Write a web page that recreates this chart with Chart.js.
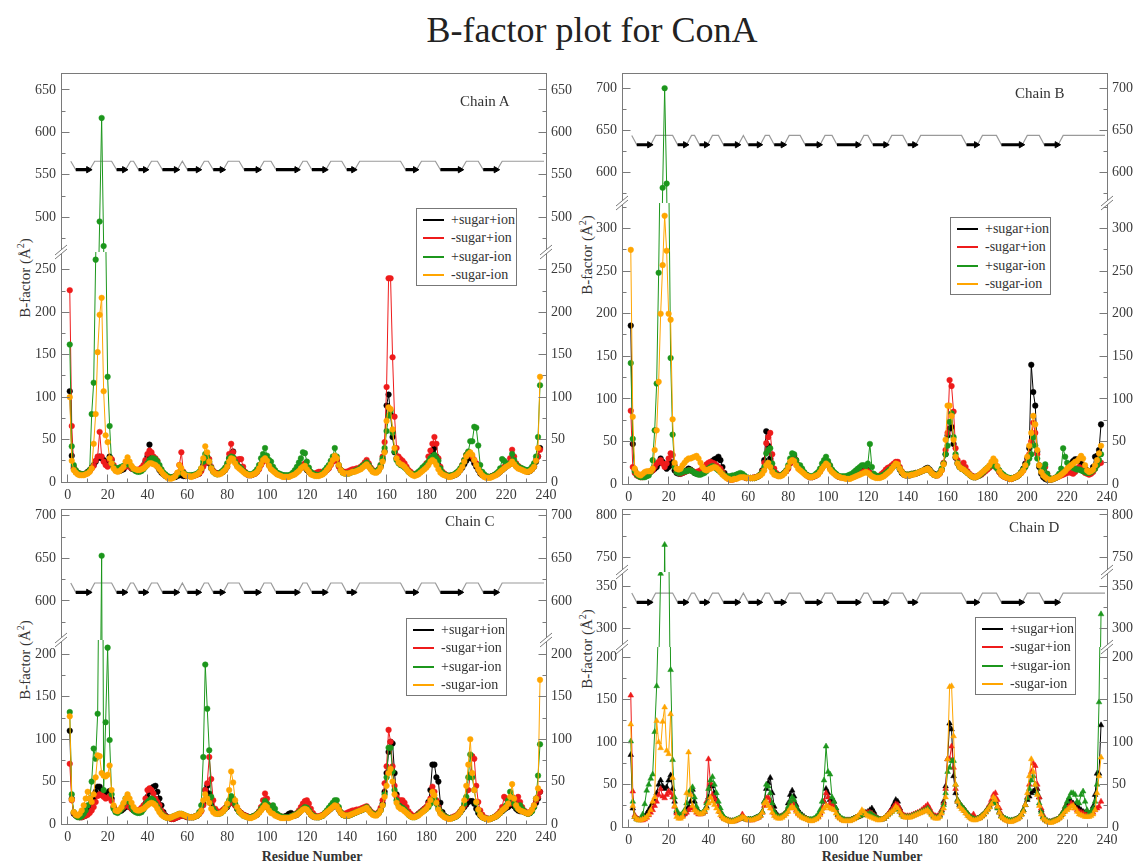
<!DOCTYPE html>
<html lang="en">
<head>
<meta charset="utf-8">
<title>B-factor plot for ConA</title>
<script src="https://cdn.jsdelivr.net/npm/chart.js@4.4.1/dist/chart.umd.min.js"></script>
<style>
  html, body { margin: 0; padding: 0; background: #fff; }
  #page { position: relative; width: 1134px; height: 867px; overflow: hidden;
          font-family: "Liberation Serif", "Times New Roman", serif; color: #222; }
  #page canvas { position: absolute; }
  .title { position: absolute; left: 25px; top: 10px; width: 1134px; text-align: center; font-size: 36px; line-height: 40px; }
  .chain { position: absolute; font-size: 15px; line-height: 18px; white-space: nowrap; color: #333; }
  .ylab { position: absolute; font-size: 15px; line-height: 16px; white-space: nowrap; color: #333;
          transform: translate(-50%, -50%) rotate(-90deg); }
  .ylab sup { font-size: 10px; vertical-align: 6px; line-height: 0; }
  .xlab { position: absolute; font-size: 14px; font-weight: bold; white-space: nowrap; line-height: 16px;
          transform: translateX(-50%); color: #333; }
  .legend { position: absolute; width: 99px; height: 76px; border: 1px solid #777; background: #fff;
            font-size: 14px; z-index: 50; color: #333; }
  .legend .row { position: absolute; left: 0; width: 100%; height: 18px; }
  .legend .sw { position: absolute; left: 6px; top: 8px; width: 21px; border-top: 2px solid; }
  .legend .tx { position: absolute; left: 34px; top: 0; line-height: 18px; white-space: nowrap; }
</style>
</head>
<body>
<div id="page">
  <div class="title">B-factor plot for ConA</div>
</div>
<script>
// ---------------------------------------------------------------------------
// Residue B-factors (Å²) for the four ConA chains, one array per simulation.
// ---------------------------------------------------------------------------
const residues = Array.from({ length: 237 }, (_, i) => i + 1);

const A_plusSugarPlusIon = [
107,31,16,12,10,9,9,9,10,12,
14,17,20,24,28,30,28,26,24,22,
30,26,18,14,13,13,14,15,18,22,
19,16,15,14,14,14,15,17,24,30,
44,32,26,22,18,14,11,9,7,6,
5,5,6,6,7,8,8,7,7,7,
7,7,8,8,9,10,14,20,27,27,
22,16,13,11,10,10,11,12,14,18,
28,33,36,26,20,18,17,14,11,9,
8,8,9,10,12,16,21,26,29,26,
20,16,14,12,10,9,8,7,7,7,
7,8,9,11,13,15,17,18,17,14,
12,10,9,8,8,8,9,10,12,14,
17,21,26,30,26,19,14,12,11,11,
11,12,13,13,14,15,16,18,20,22,
20,16,13,12,12,14,18,26,36,90,
103,80,53,35,28,24,22,21,19,16,
13,11,9,8,9,10,12,14,16,18,
22,28,36,40,30,20,14,11,9,8,
7,7,7,8,9,11,14,17,21,25,
28,30,27,22,18,14,10,8,7,6,
6,6,7,8,9,10,12,14,16,18,
20,21,24,22,19,17,16,15,14,13,
12,13,15,18,24,30,40];
const A_minusSugarPlusIon = [
226,66,18,13,11,10,9,9,10,11,
13,16,19,25,30,59,30,24,20,18,
26,27,20,15,14,15,16,17,18,20,
18,16,15,14,14,15,17,20,26,33,
37,35,30,28,25,18,14,10,8,6,
5,5,6,7,10,20,35,12,8,7,
7,7,7,8,9,10,13,18,22,27,
27,18,13,11,10,10,11,13,15,20,
33,45,35,27,24,27,27,18,12,9,
8,8,9,10,12,15,20,24,28,27,
22,18,15,12,10,9,8,8,7,7,
7,8,9,10,12,14,17,20,22,18,
14,11,10,10,11,12,12,11,12,14,
16,20,24,28,25,18,14,12,12,12,
13,14,15,15,16,16,18,20,23,26,
22,17,14,13,13,15,20,30,47,112,
240,240,147,77,40,30,27,25,22,18,
14,12,10,9,10,11,13,15,18,22,
30,37,45,53,45,28,18,12,10,8,
7,7,8,9,10,12,15,20,26,32,
35,33,30,26,22,17,12,9,7,6,
6,6,7,8,9,11,13,16,18,20,
22,28,38,30,22,19,17,15,14,13,
13,14,16,20,26,30,38];
const A_plusSugarMinusIon = [
162,42,20,14,11,10,9,9,10,11,
14,80,117,262,380,495,617,466,300,124,
66,22,18,16,16,17,18,19,20,24,
21,18,15,13,12,12,13,15,18,22,
26,28,28,27,24,20,15,11,9,7,
6,5,6,7,9,11,12,11,9,8,
8,8,8,9,10,12,16,24,33,30,
24,17,12,10,9,10,12,14,17,22,
28,30,29,24,20,18,16,13,11,10,
9,9,10,12,15,20,28,33,40,31,
26,24,18,14,11,10,9,8,8,8,
8,9,11,14,18,23,28,35,34,24,
17,12,10,9,8,8,9,11,14,17,
20,25,30,40,30,20,14,11,10,10,
10,11,12,13,14,15,17,19,21,23,
20,16,13,12,13,15,20,28,40,60,
78,84,58,36,26,22,20,19,17,15,
12,10,9,9,10,12,14,17,19,21,
24,28,30,32,28,25,16,11,9,8,
7,8,8,9,11,13,16,20,26,32,
36,48,48,65,64,43,20,12,9,7,
6,6,7,8,10,12,16,27,25,22,
20,22,33,26,21,18,17,16,15,14,
14,15,18,22,30,53,114];
const A_minusSugarMinusIon = [
100,25,14,11,9,8,8,8,9,10,
12,16,45,80,153,197,217,107,55,47,
28,22,16,13,12,13,15,18,24,29,
24,19,16,15,14,14,15,16,18,20,
22,22,21,20,18,15,12,9,7,5,
4,4,5,7,11,20,16,10,8,7,
7,6,7,8,9,11,16,28,42,35,
24,16,12,10,9,9,10,12,14,18,
24,28,27,22,18,16,14,12,10,9,
8,8,9,10,12,16,21,26,28,25,
19,15,13,11,9,8,7,6,6,6,
6,7,8,9,11,13,16,18,19,15,
12,9,8,7,7,7,8,9,11,14,
17,21,26,31,28,20,14,11,10,10,
10,11,12,12,13,14,15,17,19,21,
18,15,12,11,11,13,17,24,35,72,
88,86,62,40,28,23,21,20,18,15,
12,10,8,7,8,9,11,13,15,17,
20,24,26,24,20,15,11,9,8,7,
6,6,7,8,9,11,14,18,24,30,
33,35,32,26,20,15,11,8,6,5,
5,5,6,7,8,10,12,14,16,18,
19,21,24,21,18,16,15,14,13,12,
12,13,15,18,25,40,124];

const B_plusSugarPlusIon = [
186,47,16,12,10,9,9,10,12,14,
15,16,18,20,24,30,26,22,18,20,
26,22,16,13,12,12,13,14,16,18,
17,15,13,12,12,12,13,15,18,22,
25,27,29,30,32,28,20,13,9,7,
6,6,6,7,8,9,9,8,7,7,
7,7,7,8,9,11,16,28,62,45,
30,18,13,11,10,10,11,13,15,19,
25,30,33,28,22,18,16,13,11,9,
8,8,9,10,12,15,19,23,26,24,
19,15,13,11,9,8,8,7,7,7,
7,8,9,10,11,13,15,17,18,16,
13,10,9,8,8,8,9,10,12,14,
16,19,22,24,22,17,13,11,10,10,
10,11,12,12,13,14,15,16,18,19,
17,14,12,11,11,13,17,24,35,57,
65,67,47,31,24,20,18,17,15,13,
11,9,8,8,9,10,12,14,16,18,
20,22,24,22,18,14,11,9,8,7,
6,6,7,8,9,11,14,18,24,30,
42,140,108,92,38,20,12,8,6,5,
5,5,6,7,8,10,12,14,15,17,
20,24,27,29,29,28,24,20,18,16,
14,15,20,32,33,40,70];
const B_minusSugarPlusIon = [
86,20,13,10,9,8,8,9,10,12,
14,16,20,24,26,28,24,20,24,30,
36,34,22,15,13,12,13,14,15,16,
16,15,14,14,15,16,18,20,23,25,
26,25,24,22,20,18,14,10,8,6,
5,5,6,7,8,9,9,8,7,7,
7,7,8,8,9,11,15,25,48,55,
60,35,18,13,11,10,11,13,15,18,
24,28,30,26,21,17,15,13,11,9,
8,8,9,10,12,15,19,22,24,25,
21,16,13,11,9,8,8,8,7,7,
7,8,9,10,11,12,14,15,16,15,
13,11,10,9,9,10,12,14,17,19,
20,22,24,26,26,20,15,12,11,11,
11,12,12,13,13,14,15,16,17,18,
16,13,11,10,10,12,16,25,40,60,
122,115,85,42,28,22,20,25,20,15,
12,10,9,8,9,10,11,13,15,17,
19,21,23,22,18,14,11,9,8,7,
6,6,7,8,9,11,13,16,20,26,
35,50,72,60,35,22,16,18,20,12,
7,6,6,7,8,9,10,11,12,13,
14,13,12,14,18,20,18,15,13,12,
11,12,14,18,22,24,25];
const B_plusSugarMinusIon = [
142,53,15,11,9,8,8,8,9,10,
14,28,63,118,248,420,582,700,587,380,
148,58,20,14,13,13,14,15,15,16,
16,15,13,12,11,11,12,13,15,18,
20,21,20,18,16,14,12,10,9,9,
9,10,10,11,12,13,12,10,8,7,
7,7,7,8,9,11,14,20,36,40,
42,24,14,11,10,10,11,13,16,22,
30,36,35,28,22,22,18,14,11,10,
9,9,10,12,14,18,24,28,32,27,
22,17,14,12,10,9,9,9,9,10,
11,12,14,16,18,20,22,22,21,24,
47,20,12,10,9,9,10,11,13,15,
17,19,21,23,22,18,14,12,11,11,
11,12,12,13,13,14,15,16,17,18,
16,13,11,10,11,13,18,24,35,45,
73,83,55,35,25,20,18,17,15,13,
11,9,8,8,9,10,12,14,17,19,
21,22,22,20,18,16,13,11,9,8,
7,7,7,8,9,11,14,17,20,24,
30,35,55,45,30,22,16,18,23,12,
7,6,6,7,9,12,18,42,32,25,
22,20,19,18,17,17,16,15,14,13,
13,14,16,18,22,28,35];
const B_minusSugarMinusIon = [
275,79,18,13,11,10,12,14,15,15,
15,18,40,63,120,200,257,315,274,200,
193,76,25,18,17,18,22,25,28,30,
30,31,32,33,30,25,20,17,16,17,
18,19,20,19,17,14,11,9,7,6,
5,5,6,6,7,8,8,8,7,7,
7,7,7,8,9,10,12,16,22,25,
20,14,11,10,9,9,10,12,15,20,
26,28,27,22,18,16,14,12,10,9,
8,8,9,10,11,14,18,21,24,22,
17,14,12,10,9,8,7,7,6,6,
6,7,8,9,10,11,12,13,14,13,
11,9,8,7,7,7,8,9,11,13,
15,18,21,24,23,18,14,11,10,10,
10,11,11,12,13,14,15,16,17,18,
16,13,11,10,10,12,16,23,52,92,
92,80,52,32,24,20,18,17,15,13,
11,9,8,8,9,11,13,15,17,19,
22,26,30,27,21,15,11,9,8,7,
6,6,7,8,9,11,13,16,22,32,
45,60,80,70,40,22,14,10,8,6,
5,5,6,7,8,9,11,13,15,18,
20,22,24,26,27,30,33,30,22,16,
14,15,17,22,28,36,45];

const C_plusSugarPlusIon = [
110,30,12,10,9,8,8,9,10,12,
16,22,30,38,44,44,40,36,36,37,
39,30,20,15,14,15,16,18,20,22,
20,18,16,15,14,14,15,18,24,32,
38,42,44,45,38,30,22,14,10,8,
7,6,6,7,8,9,10,10,9,8,
8,8,8,9,10,12,16,24,40,45,
36,24,17,14,13,13,14,16,18,20,
24,28,26,22,18,15,13,11,10,9,
8,8,9,10,11,14,17,20,22,20,
17,15,14,12,10,9,8,8,9,10,
12,13,11,10,11,13,16,18,19,17,
14,11,9,8,8,8,9,10,12,14,
16,18,20,22,21,17,13,11,10,10,
10,11,12,13,14,15,16,17,18,19,
17,14,12,11,11,13,17,24,38,60,
85,97,95,60,35,25,21,20,18,15,
12,10,9,9,10,12,14,16,18,20,
26,40,70,70,55,50,25,14,10,8,
7,7,7,8,9,11,14,17,20,23,
26,27,27,24,18,13,10,8,7,6,
6,6,7,8,9,11,13,15,17,19,
20,22,24,21,18,16,15,15,14,13,
12,13,16,20,25,30,38];
const C_minusSugarPlusIon = [
71,28,13,10,9,8,8,9,10,11,
13,16,20,26,33,35,34,32,30,31,
33,27,20,16,15,16,18,20,22,22,
20,18,17,16,16,17,19,22,30,40,
42,40,36,30,26,22,16,12,9,8,
7,6,6,7,8,9,10,10,9,8,
8,8,8,9,10,12,15,22,40,48,
79,53,28,18,15,14,15,17,19,21,
24,28,26,22,18,15,13,11,10,9,
8,8,9,10,12,15,20,28,36,30,
22,17,15,13,11,10,9,8,8,8,
8,9,10,11,13,16,20,24,27,28,
24,18,13,10,9,9,10,11,13,15,
17,19,21,23,22,18,14,12,12,13,
14,15,16,16,17,17,18,19,20,21,
18,15,13,12,12,14,19,28,48,68,
111,97,68,45,32,28,28,28,25,20,
15,12,10,9,10,12,14,16,18,20,
24,30,44,38,28,20,14,11,9,8,
7,7,8,9,10,12,15,18,22,30,
40,58,80,77,45,26,16,11,8,7,
6,6,7,8,10,12,15,20,32,30,
26,24,30,28,25,32,26,20,16,14,
13,14,17,22,28,32,38];
const C_plusSugarMinusIon = [
132,35,14,10,8,8,9,12,16,22,
30,50,89,77,130,400,653,40,120,208,
99,35,18,14,13,15,18,24,30,32,
26,20,16,14,13,13,14,17,22,26,
28,30,28,24,20,16,12,10,8,7,
7,8,9,10,11,12,12,11,10,9,
8,8,8,9,10,14,22,79,188,136,
87,32,18,14,12,12,13,15,18,22,
28,33,30,24,18,14,12,10,9,8,
8,8,9,10,12,14,18,22,27,24,
20,19,22,18,12,10,9,8,8,8,
8,9,10,11,12,14,16,18,20,19,
16,12,10,9,8,8,9,10,13,16,
19,22,25,28,28,20,14,11,10,10,
10,11,12,13,14,15,16,17,18,20,
17,14,12,11,11,13,16,22,35,55,
90,90,62,40,28,22,20,19,17,14,
11,9,8,8,9,11,13,15,16,18,
20,24,28,30,24,18,14,11,9,8,
7,7,7,8,9,11,14,18,24,32,
55,82,55,40,25,16,11,8,7,6,
6,6,7,8,9,11,13,16,18,22,
28,38,32,24,20,18,22,18,15,13,
12,13,15,20,30,57,94];
const C_minusSugarMinusIon = [
127,29,14,11,10,12,16,22,30,38,
30,26,35,55,81,80,60,57,56,58,
69,40,22,16,15,17,20,25,30,35,
30,25,20,17,16,16,17,18,20,22,
24,25,24,22,18,14,11,9,8,7,
7,8,9,10,11,12,12,11,10,9,
8,8,8,9,10,12,16,28,35,30,
25,18,14,12,12,12,13,15,18,24,
40,62,49,28,20,15,12,10,9,8,
7,7,8,9,11,13,16,19,22,20,
16,13,12,10,9,8,7,7,7,7,
7,8,9,10,11,13,15,17,18,17,
14,11,9,8,8,8,9,10,12,14,
16,18,20,22,21,17,13,11,10,10,
10,11,12,13,14,15,16,17,18,19,
16,13,11,10,10,12,16,22,32,45,
60,65,50,35,25,20,18,17,15,13,
11,9,8,8,9,10,12,14,16,18,
22,28,38,34,25,17,12,10,8,7,
6,6,7,8,9,11,14,18,28,45,
70,100,60,40,26,17,11,8,7,6,
5,6,7,8,9,11,13,16,18,20,
24,32,47,30,22,18,16,15,14,13,
12,14,17,22,30,42,170];

const D_plusSugarPlusIon = [
85,22,12,10,9,9,10,12,16,20,
24,28,33,40,50,55,48,45,47,55,
61,45,30,18,14,13,14,16,20,24,
30,44,30,22,18,16,16,18,24,35,
50,48,40,32,25,18,13,10,9,8,
7,7,7,8,9,10,10,10,9,9,
9,9,10,11,12,14,18,30,45,52,
58,40,24,16,13,12,13,15,18,28,
38,43,36,26,20,16,14,12,10,9,
8,8,9,10,12,16,22,30,45,40,
32,30,30,22,14,11,9,8,8,8,
8,9,10,11,12,13,15,16,17,18,
20,22,18,13,10,9,9,10,12,15,
18,22,27,32,30,22,16,13,12,12,
12,13,14,15,16,17,18,20,22,24,
20,16,13,12,12,14,20,30,48,80,
122,115,60,40,30,26,24,22,19,16,
13,11,10,9,10,11,13,15,18,21,
24,28,32,30,24,18,13,11,9,8,
7,7,8,9,10,12,15,20,26,32,
36,40,42,44,45,35,20,12,8,7,
6,6,7,8,9,11,14,18,22,28,
33,30,28,26,24,22,20,18,17,16,
16,18,24,38,63,63,120];
const D_minusSugarPlusIon = [
155,42,14,10,9,8,8,9,11,14,
17,20,25,30,38,45,36,34,38,42,
40,35,24,16,13,12,13,15,17,20,
22,24,20,17,15,15,16,18,30,80,
52,38,34,30,24,18,13,10,9,8,
7,7,7,8,9,10,15,11,9,8,
8,8,9,10,11,13,17,25,34,35,
30,22,16,13,12,12,13,15,18,22,
27,30,26,20,16,14,12,11,10,9,
8,8,9,10,12,16,22,30,40,35,
28,26,25,20,14,11,9,8,8,8,
8,9,10,11,12,13,14,15,16,17,
17,16,14,12,10,9,9,10,12,15,
18,20,24,27,26,21,16,14,13,13,
13,14,15,16,17,18,20,22,24,26,
22,17,14,13,13,15,20,28,45,80,
80,95,70,45,32,28,25,22,19,16,
13,12,15,10,10,11,13,15,18,22,
26,32,38,40,32,22,15,11,9,8,
7,7,8,9,10,12,15,20,26,35,
50,65,75,72,50,35,22,14,9,7,
6,6,7,8,9,11,14,18,24,22,
25,28,26,22,20,18,17,16,15,14,
14,15,17,20,22,24,30];
const D_plusSugarMinusIon = [
101,30,12,9,8,10,15,27,43,50,
57,62,112,166,250,365,500,765,550,420,
185,79,35,20,15,14,16,20,28,40,
44,47,35,24,18,16,17,20,28,45,
55,59,50,40,30,22,15,11,9,8,
7,7,8,9,10,11,11,10,9,9,
9,9,10,11,12,14,18,30,50,48,
40,28,18,14,12,12,13,15,18,24,
30,35,32,24,18,15,13,11,10,9,
9,9,10,12,15,20,30,55,95,65,
62,35,30,22,15,12,10,9,8,8,
8,9,10,11,12,13,14,15,15,15,
16,15,13,11,10,9,9,10,12,14,
16,18,20,22,21,18,14,12,12,12,
12,13,14,15,16,17,18,19,20,22,
19,15,12,11,11,13,18,26,40,65,
70,78,78,50,32,28,25,22,19,16,
13,11,10,9,10,11,13,15,18,21,
24,28,30,28,22,17,13,11,10,9,
8,8,8,9,10,12,15,20,26,34,
45,55,60,50,40,28,18,12,9,7,
6,6,7,8,9,11,14,18,24,30,
35,40,40,38,30,28,38,42,30,20,
16,18,22,30,50,147,317];
const D_minusSugarMinusIon = [
121,25,12,9,8,8,9,10,12,15,
20,30,35,125,100,93,124,141,90,86,
133,58,25,12,10,10,12,18,40,88,
38,25,20,18,16,15,16,18,22,28,
35,30,26,22,18,14,11,9,8,7,
6,6,7,8,9,10,12,11,9,8,
8,8,9,10,11,13,17,28,30,25,
22,17,13,11,10,10,11,13,15,18,
22,24,22,18,15,13,11,10,9,8,
7,7,8,9,11,14,18,22,25,24,
22,21,20,16,12,10,8,7,7,7,
7,8,9,11,13,16,20,18,15,13,
12,11,10,9,8,8,9,10,12,14,
16,18,20,24,22,18,14,12,11,11,
11,12,13,14,15,16,17,18,19,20,
17,14,11,10,10,12,16,22,35,80,
165,166,107,50,30,24,21,19,16,13,
11,9,8,8,9,10,12,14,17,20,
23,27,35,32,24,17,12,10,8,7,
6,6,7,8,9,11,14,18,26,40,
60,80,65,50,38,25,15,10,8,6,
5,5,6,7,8,10,12,15,18,20,
22,24,25,22,18,15,14,13,12,12,
12,13,15,20,40,60,82];

// Beta strands of the secondary-structure track: [first residue, last residue]
const strands = [[4,11],[24.5,29],[35.5,39.5],[47.5,55],[60,66],[73,78],[88.5,96],
                 [104.5,115.5],[122.5,129.5],[140,144],[169.5,175],[187,197.5],[208.5,215.5]];
const ssTrackStart = 1.5, ssTrackEnd = 239;

const seriesNames = ['+sugar+ion', '-sugar+ion', '+sugar-ion', '-sugar-ion'];
const xTicks = [0,20,40,60,80,100,120,140,160,180,200,220,240];
const xMinorTicks = [10,30,50,70,90,110,130,150,170,190,210,230];

// ---------------------------------------------------------------------------
// Styling and panel layout
// ---------------------------------------------------------------------------
const seriesColors = ['#000000', '#ee1b1b', '#1c961c', '#ffa500'];
const FRAME = '#7a7a7a';
const LABEL = '#3a3a3a';
const FONT = '"Liberation Serif", "Times New Roman", serif';
const X_MIN = -3.4, X_MAX = 240;

const panels = [
  { label: 'Chain A', marker: 'circle',
    series: [A_plusSugarPlusIon, A_minusSugarPlusIon, A_plusSugarMinusIon, A_minusSugarMinusIon],
    box: { left: 61, right: 546, top: 73 },
    segs: [
      { bottom: 252, min: 459, max: 670, major: [500,550,600,650], minor: [475,525,575,625] },
      { bottom: 482, min: 0, max: 271, major: [0,50,100,150,200,250], minor: [25,75,125,175,225] }
    ],
    ss: { seg: 0, top: 566, bottom: 556 },
    legend: { left: 416, top: 208 }, chainPos: { left: 460, top: 92 },
    ylab: { x: 25, y: 278 }, xlab: null },
  { label: 'Chain B', marker: 'circle',
    series: [B_plusSugarPlusIon, B_minusSugarPlusIon, B_plusSugarMinusIon, B_minusSugarMinusIon],
    box: { left: 622, right: 1107, top: 73 },
    segs: [
      { bottom: 203, min: 564, max: 718, major: [600,650,700], minor: [575,625,675] },
      { bottom: 484, min: 0, max: 330, major: [0,50,100,150,200,250,300], minor: [25,75,125,175,225,275,325] }
    ],
    ss: { seg: 0, top: 644, bottom: 633 },
    legend: { left: 950, top: 217 }, chainPos: { left: 1015, top: 84 },
    ylab: { x: 587, y: 255 }, xlab: null },
  { label: 'Chain C', marker: 'circle',
    series: [C_plusSugarPlusIon, C_minusSugarPlusIon, C_plusSugarMinusIon, C_minusSugarMinusIon],
    box: { left: 61, right: 546, top: 509 },
    segs: [
      { bottom: 640, min: 554, max: 708, major: [600,650,700], minor: [575,625,675] },
      { bottom: 824, min: 0, max: 217, major: [0,50,100,150,200], minor: [25,75,125,175] }
    ],
    ss: { seg: 0, top: 621, bottom: 610 },
    legend: { left: 406, top: 618 }, chainPos: { left: 445, top: 512 },
    ylab: { x: 25, y: 660 }, xlab: { x: 312, y: 849 } },
  { label: 'Chain D', marker: 'triangle',
    series: [D_plusSugarPlusIon, D_minusSugarPlusIon, D_plusSugarMinusIon, D_minusSugarMinusIon],
    box: { left: 622, right: 1107, top: 509 },
    segs: [
      { bottom: 572, min: 733, max: 807, major: [750,800], minor: [775] },
      { bottom: 647, min: 278, max: 367, major: [300,350], minor: [325] },
      { bottom: 827, min: 0, max: 212, major: [0,50,100,150,200], minor: [25,75,125,175] }
    ],
    ss: { seg: 1, top: 342, bottom: 331 },
    legend: { left: 975, top: 617 }, chainPos: { left: 1009, top: 518 },
    ylab: { x: 587, y: 649 }, xlab: { x: 872, y: 849 } }
];

// Crisp 1px line position, same rounding Chart.js uses for its borders
const align = p => Math.round(p - 0.5) + 0.5;

// Draws the inward tick marks, the top edge of the frame and the axis-break marks
const panelFrame = {
  id: 'panelFrame',
  afterDraw(chart, _args, o) {
    const { ctx, chartArea: a } = chart;
    const ys = chart.scales.y, xs = chart.scales.x;
    const L = align(a.left), R = align(a.right);
    ctx.save();
    ctx.strokeStyle = FRAME;
    ctx.lineWidth = 1;
    ctx.beginPath();
    const yTick = (v, len) => {
      const py = align(ys.getPixelForValue(v));
      ctx.moveTo(L, py); ctx.lineTo(L + len, py);
      ctx.moveTo(R, py); ctx.lineTo(R - len, py);
    };
    o.major.forEach(v => yTick(v, 8));
    o.minor.forEach(v => yTick(v, 4));
    if (o.isBottom) {
      const B = align(a.bottom);
      const xTick = (v, len) => {
        const px = align(xs.getPixelForValue(v));
        ctx.moveTo(px, B); ctx.lineTo(px, B - len);
      };
      xTicks.forEach(v => xTick(v, 8));
      xMinorTicks.forEach(v => xTick(v, 4));
    }
    if (o.isTop) {
      const T = align(a.top);
      ctx.moveTo(L, T); ctx.lineTo(R, T);
    }
    ctx.stroke();
    if (!o.isBottom) {
      const yb = a.bottom;
      [a.left, a.right].forEach(xx => {
        ctx.fillStyle = '#fff';
        ctx.fillRect(xx - 3, yb - 2, 6, 4);
        ctx.beginPath();
        [-2, 2].forEach(d => { ctx.moveTo(xx - 6, yb + d + 5); ctx.lineTo(xx + 6, yb + d - 5); });
        ctx.stroke();
      });
    }
    ctx.restore();
  }
};

const page = document.getElementById('page');

function ssDatasets(ss) {
  const track = [{ x: ssTrackStart, y: ss.top }];
  const bodies = [], heads = [];
  strands.forEach(([s, e]) => {
    track.push({ x: s - 2.5, y: ss.top }, { x: s, y: ss.bottom }, { x: e, y: ss.bottom }, { x: e + 2.5, y: ss.top });
    bodies.push({ x: s, y: ss.bottom }, { x: e - 1, y: ss.bottom }, { x: e, y: null });
    heads.push({ x: e - 0.6, y: ss.bottom });
  });
  track.push({ x: ssTrackEnd, y: ss.top });
  return [
    { data: track, borderColor: '#9a9a9a', borderWidth: 1.2, pointRadius: 0, order: 12, spanGaps: false, clip: 0 },
    { data: bodies, borderColor: '#000', borderWidth: 3.2, pointRadius: 0, order: 11, spanGaps: false, clip: 0 },
    { data: heads, showLine: false, pointStyle: 'triangle', pointRotation: 90, pointRadius: 3.6,
      pointBackgroundColor: '#000', pointBorderColor: '#000', pointBorderWidth: 1, order: 10, clip: 0 }
  ];
}

function buildSegment(p, si) {
  const seg = p.segs[si];
  const segTop = si === 0 ? p.box.top : p.segs[si - 1].bottom;
  const isTop = si === 0, isBottom = si === p.segs.length - 1;
  const padL = 46, padR = 46, padT = 24, padB = isBottom ? 34 : 24;
  const W = (p.box.right - p.box.left) + padL + padR;
  const H = (seg.bottom - segTop) + padT + padB;
  const cv = document.createElement('canvas');
  cv.width = W; cv.height = H;
  Object.assign(cv.style, { left: (p.box.left - padL) + 'px', top: (segTop - padT) + 'px',
    width: W + 'px', height: H + 'px', zIndex: String(20 - si) });
  page.appendChild(cv);

  const datasets = p.series.map((vals, k) => ({
    label: seriesNames[k],
    data: vals.map((v, i) => ({ x: residues[i], y: v })),
    borderColor: seriesColors[k], backgroundColor: seriesColors[k],
    pointBackgroundColor: seriesColors[k], pointBorderColor: seriesColors[k],
    borderWidth: 1, pointStyle: p.marker, pointRadius: p.marker === 'triangle' ? 3.3 : 2.8,
    pointBorderWidth: 0.5, tension: 0, order: 4 - k, clip: 0
  }));
  if (p.ss.seg === si) datasets.push(...ssDatasets(p.ss));

  const yTicks = s => { s.ticks = seg.major.map(v => ({ value: v })); };
  const tickFont = { family: FONT, size: 14 };
  const yAxis = (position, width) => ({
    type: 'linear', position, min: seg.min, max: seg.max,
    afterBuildTicks: yTicks,
    afterFit: s => { s.width = width; },
    grid: { display: false, drawTicks: false, tickLength: 0 },
    border: { display: true, color: FRAME, width: 1 },
    ticks: { font: tickFont, color: LABEL, padding: 5, autoSkip: false, callback: v => String(v) }
  });

  new Chart(cv, {
    type: 'line',
    data: { datasets },
    options: {
      responsive: false, maintainAspectRatio: false, animation: false, devicePixelRatio: 1,
      events: [],
      layout: { autoPadding: false, padding: { top: padT, bottom: isBottom ? 0 : padB, left: 0, right: 0 } },
      scales: {
        x: {
          type: 'linear', min: X_MIN, max: X_MAX, display: isBottom,
          afterBuildTicks: s => { s.ticks = xTicks.map(v => ({ value: v })); },
          afterFit: s => { s.height = isBottom ? padB : 0; },
          grid: { display: false, drawTicks: false, tickLength: 0 },
          border: { display: true, color: FRAME, width: 1 },
          ticks: { font: tickFont, color: LABEL, padding: 5, autoSkip: false, maxRotation: 0, callback: v => String(v) }
        },
        y: yAxis('left', padL),
        y2: yAxis('right', padR)
      },
      plugins: {
        legend: { display: false }, tooltip: { enabled: false },
        panelFrame: { major: seg.major, minor: seg.minor, isTop, isBottom }
      }
    },
    plugins: [panelFrame]
  });
}

function addText(cls, html, style) {
  const d = document.createElement('div');
  d.className = cls; d.innerHTML = html;
  Object.assign(d.style, style);
  page.appendChild(d);
  return d;
}

panels.forEach(p => {
  p.segs.forEach((_, si) => buildSegment(p, si));

  addText('chain', p.label, { left: p.chainPos.left + 'px', top: p.chainPos.top + 'px', zIndex: 40 });
  addText('ylab', 'B-factor (&Aring;<sup>2</sup>)', { left: p.ylab.x + 'px', top: p.ylab.y + 'px' });
  if (p.xlab) addText('xlab', 'Residue Number', { left: p.xlab.x + 'px', top: p.xlab.y + 'px' });

  const lg = addText('legend', '', { left: p.legend.left + 'px', top: p.legend.top + 'px' });
  seriesNames.forEach((name, k) => {
    const row = document.createElement('div');
    row.className = 'row';
    row.style.top = (2 + k * 18.3) + 'px';
    row.innerHTML = '<span class="sw" style="border-top-color:' + seriesColors[k] + '"></span>' +
                    '<span class="tx">' + name + '</span>';
    lg.appendChild(row);
  });
});
</script>
</body>
</html>
